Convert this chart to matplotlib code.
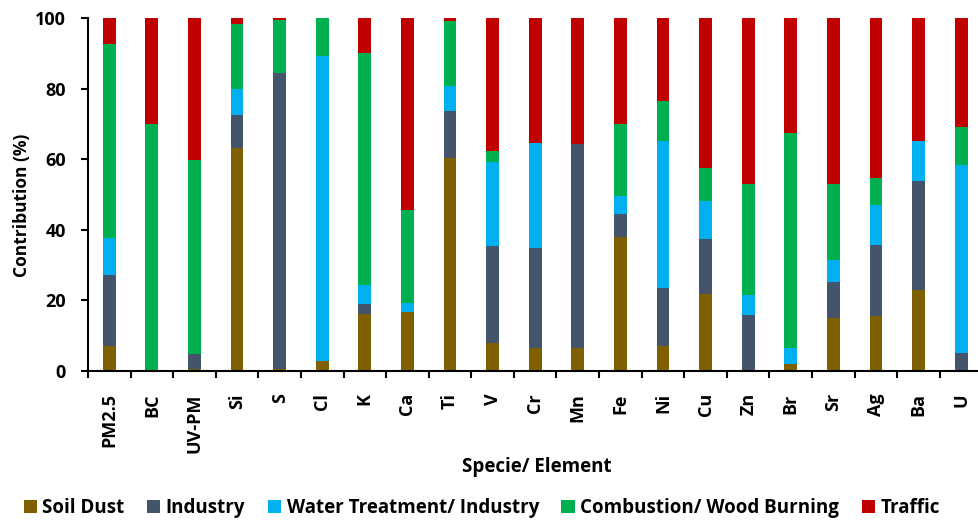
import numpy as np
import matplotlib
matplotlib.use("Agg")
import matplotlib.pyplot as plt

species = ["PM2.5", "BC", "UV-PM", "Si", "S", "Cl", "K", "Ca", "Ti", "V", "Cr",
           "Mn", "Fe", "Ni", "Cu", "Zn", "Br", "Sr", "Ag", "Ba", "U"]

soil_dust = [7.1, 0, 0.5, 63.3, 0.7, 2.7, 16.1, 16.6, 60.2, 7.9, 6.4,
             6.6, 38.1, 7.1, 21.8, 0, 1.9, 14.9, 15.6, 22.9, 0]
industry = [20.1, 0, 4.2, 9.1, 83.8, 0, 2.9, 0, 13.4, 27.6, 28.4,
            57.7, 6.4, 16.4, 15.5, 15.9, 0, 10.4, 20.2, 30.9, 5.2]
water_treatment = [10.6, 0, 0, 7.6, 0, 86.4, 5.5, 2.6, 7.0, 23.6, 29.8,
                   0, 5.1, 41.7, 10.8, 5.7, 4.5, 6.2, 11.1, 11.4, 53.1]
combustion = [54.8, 69.9, 55.0, 18.4, 15.0, 10.9, 65.7, 26.3, 18.6, 3.2, 0,
              0, 20.5, 11.4, 9.5, 31.3, 60.9, 21.4, 7.8, 0, 10.9]
traffic = [7.4, 30.1, 40.3, 1.6, 0.5, 0, 9.8, 54.5, 0.8, 37.7, 35.4,
           35.7, 29.9, 23.4, 42.4, 47.1, 32.7, 47.1, 45.3, 34.8, 30.8]

sources = ["Soil Dust", "Industry", "Water Treatment/ Industry",
           "Combustion/ Wood Burning", "Traffic"]
colors = ["#7F6000", "#44546A", "#00B0F0", "#00B050", "#C00000"]

plt.rcParams["font.family"] = "Open Sans"
plt.rcParams["font.weight"] = "bold"

fig = plt.figure(figsize=(9.79, 5.23), dpi=100)
ax = fig.add_axes([88 / 979, 152 / 523, 891 / 979, 353 / 523])

x = np.arange(len(species))
bottom = np.zeros(len(species))
for name, vals, col in zip(sources, [soil_dust, industry, water_treatment, combustion, traffic], colors):
    vals = np.array(vals)
    ax.bar(x, vals, 0.3, bottom=bottom, color=col, label=name)
    bottom += vals

ax.set_xlim(-0.5, 20.42)
ax.set_ylim(0, 100)
ax.set_yticks([0, 20, 40, 60, 80, 100])
ax.set_xticks(x)
ax.set_xticklabels(species, rotation=90, fontsize=13, fontweight="bold")
ax.set_xticks(np.arange(-0.5, 20.5, 1), minor=True)
ax.tick_params(axis="x", which="major", length=0, pad=16)
ax.tick_params(axis="x", which="minor", length=5, width=1.5, direction="out")
ax.tick_params(axis="y", length=5, width=1.5, labelsize=13, pad=11)

for s in ["top", "right"]:
    ax.spines[s].set_visible(False)
for s in ["left", "bottom"]:
    ax.spines[s].set_linewidth(1.5)

ax.set_ylabel("Contribution (%)", fontsize=12.5, fontweight="bold")
ax.yaxis.set_label_coords(-0.064, 0.47)
fig.text(0.548, 0.108, "Specie/ Element", ha="center", va="center", fontsize=13.5,
         fontweight="bold")

handles, labels = ax.get_legend_handles_labels()
fig.legend(handles, labels, loc="center", bbox_to_anchor=(0.492, 0.028), ncol=5,
           frameon=False, handlelength=0.7, handleheight=0.7, handletextpad=0.3,
           columnspacing=1.2, prop={"weight": "bold", "size": 13.5})

fig.savefig("out.png", dpi=100)
